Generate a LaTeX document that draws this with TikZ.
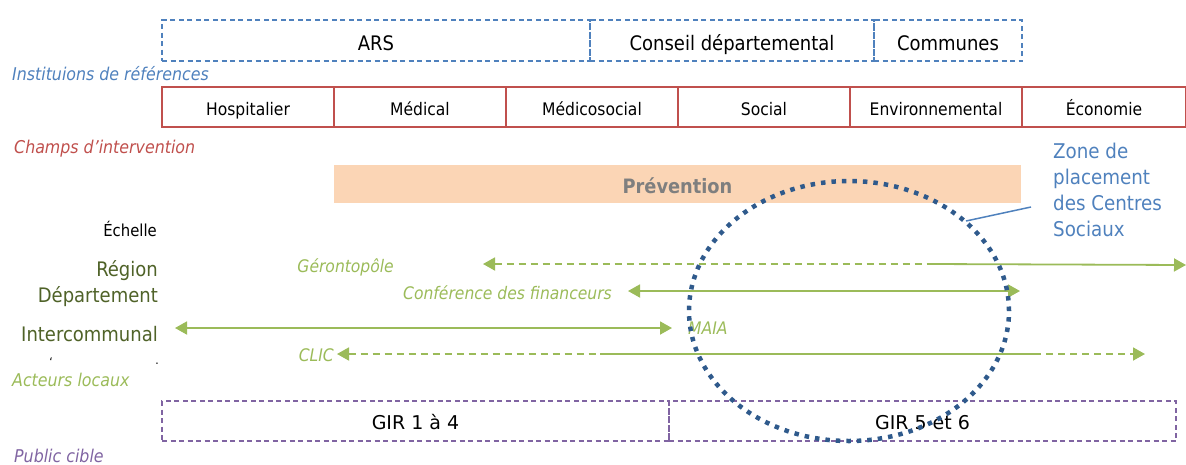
\documentclass[tikz,border=0pt]{standalone}
\usepackage{fontspec}
\setmainfont{DejaVu Sans Condensed}
\newfontfamily\widefont{DejaVu Sans}
\usetikzlibrary{arrows.meta}
\definecolor{instblue}{HTML}{4F81BD}
\definecolor{champred}{HTML}{C0504D}
\definecolor{greenarr}{HTML}{9BBB59}
\definecolor{olive}{HTML}{4F6228}
\definecolor{purp}{HTML}{8064A2}
\definecolor{peach}{HTML}{FBD5B5}
\definecolor{circblue}{HTML}{2F5A8C}
\definecolor{prevgray}{HTML}{7F7F7F}
\tikzset{
  fs/.style={font=\fontsize{#1}{#1}\selectfont},
  instbox/.style={draw=instblue, line width=1.3pt, dash pattern=on 5pt off 3.5pt, minimum height=41pt, inner sep=0pt, text height=19pt, text depth=0pt, fs=20},
  champbox/.style={draw=champred, line width=1.5pt, minimum height=40pt, minimum width=172pt, inner sep=0pt, text height=16pt, text depth=0pt, fs=17.3},
  girbox/.style={draw=purp, line width=1.3pt, dash pattern=on 5pt off 3.5pt, minimum height=40pt, inner sep=0pt, text height=16pt, text depth=0pt, font=\fontsize{19}{19}\widefont},
  leftlab/.style={anchor=base east, inner sep=0pt, text=olive, fs=20},
  catlab/.style={anchor=base west, inner sep=0pt, font=\fontsize{17.6}{17.6}\selectfont\itshape},
  actlab/.style={inner sep=0pt, text=greenarr, font=\fontsize{17.3}{17.3}\selectfont\itshape},
  garrow/.style={draw=greenarr, line width=1.8pt, -{Triangle[length=12pt,width=13pt]}},
  gdash/.style={garrow, dash pattern=on 7pt off 5pt},
}
\begin{document}
\begin{tikzpicture}[x=1pt,y=-1pt]
\useasboundingbox (0,0) rectangle (1186,464);
% institutions
\node[instbox, minimum width=428pt] (ars) at (376,40.5) {ARS};
\node[instbox, minimum width=284pt] (cd) at (732,40.5) {Conseil départemental};
\node[instbox, minimum width=148pt] (com) at (948,40.5) {Communes};
\node[catlab, text=instblue] (instlab) at (12,80) {Instituions de références};
% champs
\node[champbox] (hosp) at (248,107) {Hospitalier};
\node[champbox] (med) at (420,107) {Médical};
\node[champbox] (medsoc) at (592,107) {Médicosocial};
\node[champbox] (soc) at (764,107) {Social};
\node[champbox] (env) at (936,107) {Environnemental};
\node[champbox, minimum width=164pt] (eco) at (1104,107) {Économie};
\node[catlab, text=champred] (champlab) at (14,153) {Champs d’intervention};
% prevention
\node[fill=peach, minimum width=687pt, minimum height=38pt, inner sep=0pt, text height=18pt, text depth=0pt, text=prevgray, font=\fontsize{19.8}{19.8}\selectfont\bfseries] (prev) at (677.5,184) {Prévention};
% scale labels
\node[anchor=base east, inner sep=0pt, fs=16.5] (ech) at (157,236) {Échelle};
\node[leftlab] (reg) at (158,276) {Région};
\node[leftlab] (dep) at (158,302) {Département};
\node[leftlab] (inter) at (158,341) {Intercommunal};
\node[anchor=base, inner sep=0pt, fs=12] (tick1) at (51,366) {`};
\node[anchor=base, inner sep=0pt, fs=12] (tick2) at (157,364) {.};
\node[catlab, text=greenarr] (actlab) at (12,386) {Acteurs locaux};
\node[catlab, text=purp] (publab) at (14,462) {Public cible};
% actors
\node[actlab, anchor=base east] (geron) at (394,272) {Gérontopôle};
\node[actlab, anchor=base east] (conf) at (612,299) {Conférence des financeurs};
\node[actlab, anchor=base west] (maia) at (688,334) {MAIA};
\node[actlab, anchor=base east] (clic) at (334,361) {CLIC};
\coordinate (g1) at (483,264);
\coordinate (g2) at (930,264);
\coordinate (g3) at (1186,265);
\draw[gdash, {Triangle[length=12pt,width=13pt]}-] (g1) -- (g2);
\draw[garrow] (g2) -- (g3);
\coordinate (c1) at (628,291);
\coordinate (c2) at (1020,291);
\draw[garrow, {Triangle[length=12pt,width=13pt]}-{Triangle[length=12pt,width=13pt]}] (c1) -- (c2);
\coordinate (m1) at (175,328);
\coordinate (m2) at (672,328);
\draw[garrow, {Triangle[length=12pt,width=13pt]}-{Triangle[length=12pt,width=13pt]}] (m1) -- (m2);
\coordinate (l1) at (337,354);
\coordinate (l2) at (600,354);
\coordinate (l3) at (1034,354);
\coordinate (l4) at (1145,354);
\draw[gdash, {Triangle[length=12pt,width=13pt]}-] (l1) -- (l2);
\draw[draw=greenarr, line width=1.8pt] (l2) -- (l3);
\draw[gdash] (l3) -- (l4);
% public
\node[girbox, minimum width=507pt] (gir1) at (415.5,421) {GIR 1 à 4};
\node[girbox, minimum width=507pt] (gir5) at (922.5,421) {GIR 5 et 6};
% zone circle
\draw[circblue, line width=4.5pt, dash pattern=on 4.5pt off 6pt] (849,311) ellipse [x radius=160pt, y radius=130pt];
\node[anchor=north west, align=left, inner sep=0pt, text=instblue, font=\fontsize{20.3}{26}\selectfont] (zone) at (1053,143) {Zone de\\placement\\des Centres\\Sociaux};
\coordinate (zp) at (966,221);
\coordinate (zq) at (1031,207);
\draw[instblue, line width=1.5pt] (zp) -- (zq);
\end{tikzpicture}
\end{document}
